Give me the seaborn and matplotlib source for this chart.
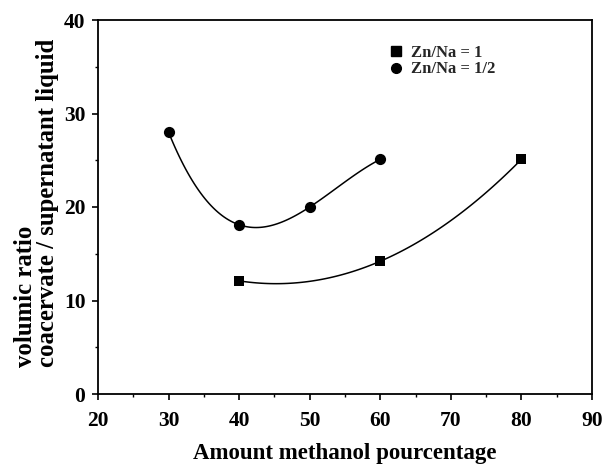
import matplotlib
matplotlib.use("Agg")
import matplotlib.pyplot as plt
from matplotlib.ticker import MultipleLocator
from matplotlib.lines import Line2D
import seaborn as sns
import pandas as pd

# Data
sq_x = [40, 60, 80]
sq_y = [12.1, 14.2, 25.1]
ci_x = [30, 40, 50, 60]
ci_y = [28.0, 18.1, 20.0, 25.1]
labels = ["Zn/Na = 1", "Zn/Na = 1/2"]

sns.set_theme(style="ticks")
plt.rcParams['font.family'] = ['Liberation Serif', 'DejaVu Serif']
plt.rcParams['font.weight'] = 'bold'

fig = plt.figure(figsize=(6.07, 4.72), dpi=100)
L, R, B, T = 98 / 607, 592 / 607, 1 - 394 / 472, 1 - 20 / 472
ax = fig.add_axes([L, B, R - L, T - B])

df_sq = pd.DataFrame({"x": sq_x, "y": sq_y})
df_ci = pd.DataFrame({"x": ci_x, "y": ci_y})

sns.regplot(data=df_sq, x="x", y="y", order=2, ci=None, scatter=False,
            line_kws=dict(color="black", lw=1.1), ax=ax)
sns.regplot(data=df_ci, x="x", y="y", order=3, ci=None, scatter=False,
            line_kws=dict(color="black", lw=1.1), ax=ax)
sns.scatterplot(data=df_sq, x="x", y="y", marker="s", s=60, color="black",
                edgecolor="black", linewidth=0, ax=ax, zorder=5)
sns.scatterplot(data=df_ci, x="x", y="y", marker="o", s=65, color="black",
                edgecolor="black", linewidth=0, ax=ax, zorder=5)

ax.set_xlim(20, 90)
ax.set_ylim(0, 40)
ax.xaxis.set_major_locator(MultipleLocator(10))
ax.xaxis.set_minor_locator(MultipleLocator(5))
ax.yaxis.set_major_locator(MultipleLocator(10))
ax.yaxis.set_minor_locator(MultipleLocator(5))
ax.tick_params(which="major", direction="out", length=4, width=1.2,
               labelsize=15.5, color="black", labelcolor="black")
ax.tick_params(axis="x", which="major", pad=8)
ax.tick_params(axis="y", which="major", pad=5)
ax.tick_params(which="minor", direction="out", length=2.5, width=1.0, color="black")
for lab in ax.get_xticklabels() + ax.get_yticklabels():
    lab.set_fontweight("bold")

for sp in ax.spines.values():
    sp.set_visible(True)
    sp.set_color("black")
    sp.set_linewidth(1.3)
ax.set_facecolor("white")

ax.set_xlabel("Amount methanol pourcentage", fontsize=16.5, fontweight="bold",
              labelpad=9, color="black")
ax.set_ylabel("volumic ratio\ncoacervate / supernatant liquid", fontsize=17.8,
              fontweight="bold", color="black", linespacing=0.95,
              multialignment="left")
ax.yaxis.set_label_coords(-0.078, 0.512)

handles = [
    Line2D([], [], marker="s", color="black", linestyle="none", markersize=6.5),
    Line2D([], [], marker="o", color="black", linestyle="none", markersize=7),
]
leg = ax.legend(handles, labels, loc="upper left", bbox_to_anchor=(0.555, 0.973),
                frameon=False, handletextpad=0.45, handlelength=1.0,
                labelspacing=0.02, prop=dict(family="Liberation Serif",
                                             weight="bold", size=12))

fig.savefig("out.png", dpi=100, facecolor="white")
